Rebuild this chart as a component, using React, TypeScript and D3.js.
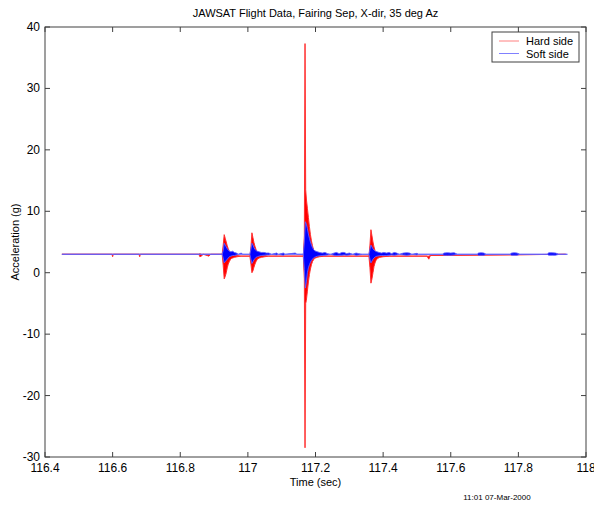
import React from "react";
import * as d3 from "d3";

const title = "JAWSAT Flight Data, Fairing Sep, X-dir, 35 deg Az";
const xLabel = "Time (sec)";
const yLabel = "Acceleration (g)";
const stamp = "11:01 07-Mar-2000";
const seriesNames = ["Hard side", "Soft side"];
const xTicks = [116.4, 116.6, 116.8, 117, 117.2, 117.4, 117.6, 117.8, 118];
const yTicks = [-30, -20, -10, 0, 10, 20, 30, 40];

// Hard side envelope (time, upper, lower) per sample
const hardTime = [116.45, 116.598, 116.6, 116.602, 116.678, 116.68, 116.682, 116.855, 116.858, 116.862, 116.868, 116.885, 116.89, 116.924,
  116.927, 116.93, 116.933, 116.936, 116.939, 116.942, 116.945, 116.948, 116.951, 116.955, 116.96, 116.968, 116.98,
  117.006, 117.009, 117.012, 117.015, 117.018, 117.021, 117.024, 117.027, 117.03, 117.034, 117.04, 117.05, 117.06,
  117.164, 117.167, 117.169, 117.171, 117.173, 117.176, 117.179, 117.182, 117.185, 117.188, 117.191, 117.194, 117.197, 117.2, 117.205, 117.212, 117.225, 117.24,
  117.358, 117.361, 117.364, 117.367, 117.37, 117.373, 117.376, 117.379, 117.383, 117.39, 117.4, 117.42,
  117.53, 117.535, 117.54, 117.94];
const hardHigh = [3.0, 3.0, 3.0, 3.0, 3.0, 3.0, 3.0, 3.0, 3.1, 3.0, 3.0, 3.0, 3.0, 3.0,
  4.5, 6.2, 5.6, 5.0, 4.4, 3.9, 3.5, 3.3, 3.1, 3.0, 2.9, 2.8, 2.7,
  2.7, 4.2, 6.5, 5.7, 4.9, 4.3, 3.8, 3.4, 3.2, 3.0, 2.9, 2.8, 2.7,
  2.7, 6.0, 37.3, 13.5, 12.0, 10.5, 9.0, 7.5, 6.2, 5.2, 4.4, 3.8, 3.4, 3.1, 2.9, 2.8, 2.7, 2.7,
  2.7, 4.5, 7.0, 6.0, 5.0, 4.2, 3.6, 3.2, 3.0, 2.9, 2.8, 2.7,
  2.7, 2.7, 2.8, 3.0];
const hardLow = [3.0, 3.0, 2.6, 3.0, 3.0, 2.6, 3.0, 3.0, 2.6, 2.7, 3.0, 2.7, 3.0, 3.0,
  1.2, -1.0, -0.6, 0.0, 0.8, 1.4, 1.8, 2.1, 2.3, 2.4, 2.5, 2.6, 2.7,
  2.7, 1.4, 0.0, 0.3, 0.9, 1.4, 1.8, 2.1, 2.3, 2.4, 2.5, 2.6, 2.7,
  2.7, -1.0, -28.5, -5.0, -4.5, -3.0, -1.5, -0.3, 0.6, 1.3, 1.8, 2.1, 2.3, 2.4, 2.5, 2.6, 2.7, 2.7,
  2.7, 0.8, -1.7, -1.0, 0.0, 1.0, 1.6, 2.0, 2.3, 2.5, 2.6, 2.7,
  2.7, 2.2, 2.8, 3.0];

// Soft side envelope (time, upper, lower) per sample
const softTime = [116.45, 116.924, 116.927, 116.93, 116.933, 116.936, 116.939, 116.942, 116.945, 116.95, 116.955, 116.96, 116.966, 116.972, 116.98, 116.985,
  117.006, 117.009, 117.012, 117.015, 117.018, 117.021, 117.024, 117.028, 117.033, 117.04, 117.048, 117.055, 117.062, 117.07, 117.085, 117.09, 117.105, 117.11, 117.14, 117.145,
  117.164, 117.167, 117.17, 117.173, 117.176, 117.179, 117.182, 117.185, 117.188, 117.191, 117.194, 117.197, 117.201, 117.206, 117.212, 117.22, 117.228, 117.236, 117.245,
  117.255, 117.262, 117.27, 117.278, 117.285, 117.292, 117.3, 117.31, 117.32, 117.328, 117.34,
  117.358, 117.361, 117.364, 117.367, 117.37, 117.373, 117.377, 117.382, 117.388, 117.395, 117.402, 117.41, 117.418, 117.425, 117.433, 117.44, 117.448, 117.46, 117.47, 117.478, 117.485, 117.5, 117.505,
  117.575, 117.58, 117.59, 117.6, 117.61, 117.62, 117.678, 117.682, 117.69, 117.698, 117.705,
  117.775, 117.78, 117.788, 117.796, 117.805, 117.885, 117.89, 117.9, 117.91, 117.92, 117.945];
const softHigh = [3.0, 3.0, 3.6, 4.8, 4.5, 4.2, 3.9, 3.7, 3.5, 3.4, 3.5, 3.3, 3.2, 3.0, 3.2, 3.0,
  3.0, 3.8, 4.8, 4.5, 4.1, 3.8, 3.6, 3.5, 3.4, 3.3, 3.3, 3.2, 3.2, 3.0, 3.2, 3.0, 3.2, 3.0, 3.2, 3.0,
  3.0, 5.0, 8.3, 7.9, 7.2, 6.3, 5.6, 5.0, 4.5, 4.1, 3.8, 3.6, 3.5, 3.4, 3.3, 3.2, 3.3, 3.1, 3.0,
  3.2, 3.3, 3.1, 3.3, 3.3, 3.1, 3.2, 3.0, 3.2, 3.1, 3.0,
  3.0, 3.8, 4.5, 4.2, 3.9, 3.7, 3.5, 3.4, 3.3, 3.2, 3.3, 3.2, 3.3, 3.1, 3.3, 3.2, 3.0, 3.2, 3.25, 3.2, 3.0, 3.15, 3.0,
  3.0, 3.2, 3.25, 3.2, 3.25, 3.0, 3.0, 3.2, 3.25, 3.2, 3.0,
  3.0, 3.2, 3.25, 3.2, 3.0, 3.0, 3.25, 3.25, 3.2, 3.0, 3.0];
const softLow = [3.0, 3.0, 2.4, 1.6, 1.8, 2.0, 2.2, 2.4, 2.6, 2.7, 2.8, 2.8, 2.9, 3.0, 3.0, 3.0,
  3.0, 2.2, 1.5, 1.8, 2.1, 2.3, 2.5, 2.6, 2.7, 2.8, 2.85, 2.9, 2.9, 3.0, 2.9, 3.0, 2.85, 3.0, 3.0, 3.0,
  3.0, 0.5, -2.5, -1.5, 0.0, 0.8, 1.3, 1.7, 2.0, 2.2, 2.4, 2.5, 2.6, 2.7, 2.75, 2.8, 2.85, 2.9, 3.0,
  2.85, 2.8, 2.85, 2.85, 2.9, 2.85, 2.9, 3.0, 2.85, 2.9, 3.0,
  3.0, 2.2, 1.6, 1.9, 2.2, 2.4, 2.6, 2.7, 2.75, 2.8, 2.8, 2.8, 2.85, 2.9, 2.85, 2.9, 3.0, 2.9, 2.85, 2.9, 3.0, 2.9, 3.0,
  3.0, 2.85, 2.85, 2.85, 2.9, 3.0, 3.0, 2.85, 2.85, 2.85, 3.0,
  3.0, 2.85, 2.85, 2.85, 3.0, 3.0, 2.85, 2.85, 2.85, 3.0, 3.0];

const W = 594, H = 506;
const left = 45, right = 586, top = 27, bottom = 457;
const font = "Liberation Sans, Arial, Helvetica, sans-serif";

export default function App() {
  const x = d3.scaleLinear().domain([116.4, 118]).range([left, right]);
  const y = d3.scaleLinear().domain([-30, 40]).range([bottom, top]);
  const mkArea = (t: number[], hi: number[], lo: number[]) =>
    d3.area<number>()
      .x(i => x(t[i]))
      .y0(i => y(lo[i]))
      .y1(i => y(hi[i]))(d3.range(t.length)) || "";
  const hardPath = mkArea(hardTime, hardHigh, hardLow);
  const softPath = mkArea(softTime, softHigh, softLow);
  const axisColor = "#404040";
  const tickLen = 5;
  return (
    <div style={{ position: "absolute", left: 0, top: 0 }}>
      <svg width={W} height={H} style={{ display: "block", background: "#fff" }} fontFamily={font}>
        <text x={(left + right) / 2} y={17} textAnchor="middle" fontSize={11} fill="#000">{title}</text>
        <g>
          <path d={hardPath} fill="#ff0000" stroke="#ff3030" strokeWidth={1} strokeLinejoin="round" />
          <path d={softPath} fill="#0000ff" stroke="#6060ff" strokeWidth={0.9} strokeLinejoin="round" />
        </g>
        <rect x={left} y={top} width={right - left} height={bottom - top} fill="none" stroke={axisColor} strokeWidth={1} />
        {xTicks.map(t => (
          <g key={"x" + t}>
            <line x1={x(t)} x2={x(t)} y1={bottom} y2={bottom - tickLen} stroke={axisColor} />
            <line x1={x(t)} x2={x(t)} y1={top} y2={top + tickLen} stroke={axisColor} />
            <text x={x(t)} y={472} textAnchor="middle" fontSize={12} fill="#000">{d3.format("")(t)}</text>
          </g>
        ))}
        {yTicks.map(t => (
          <g key={"y" + t}>
            <line x1={left} x2={left + tickLen} y1={y(t)} y2={y(t)} stroke={axisColor} />
            <line x1={right} x2={right - tickLen} y1={y(t)} y2={y(t)} stroke={axisColor} />
            <text x={40} y={y(t) + 4} textAnchor="end" fontSize={12} fill="#000">{t}</text>
          </g>
        ))}
        <text x={(left + right) / 2} y={486} textAnchor="middle" fontSize={11} fill="#000">{xLabel}</text>
        <text transform={`translate(19,${(top + bottom) / 2}) rotate(-90)`} textAnchor="middle" fontSize={11} fill="#000">{yLabel}</text>
        <text x={497} y={500} textAnchor="middle" fontSize={8} fill="#000">{stamp}</text>
        <g>
          <rect x={492} y={32} width={87} height={30} fill="#fff" stroke={axisColor} />
          <line x1={499} x2={519} y1={41} y2={41} stroke="#ff8080" />
          <text x={526} y={45} fontSize={11} fill="#000">{seriesNames[0]}</text>
          <line x1={499} x2={519} y1={53.5} y2={53.5} stroke="#8080ff" />
          <text x={526} y={57.5} fontSize={11} fill="#000">{seriesNames[1]}</text>
        </g>
      </svg>
    </div>
  );
}
